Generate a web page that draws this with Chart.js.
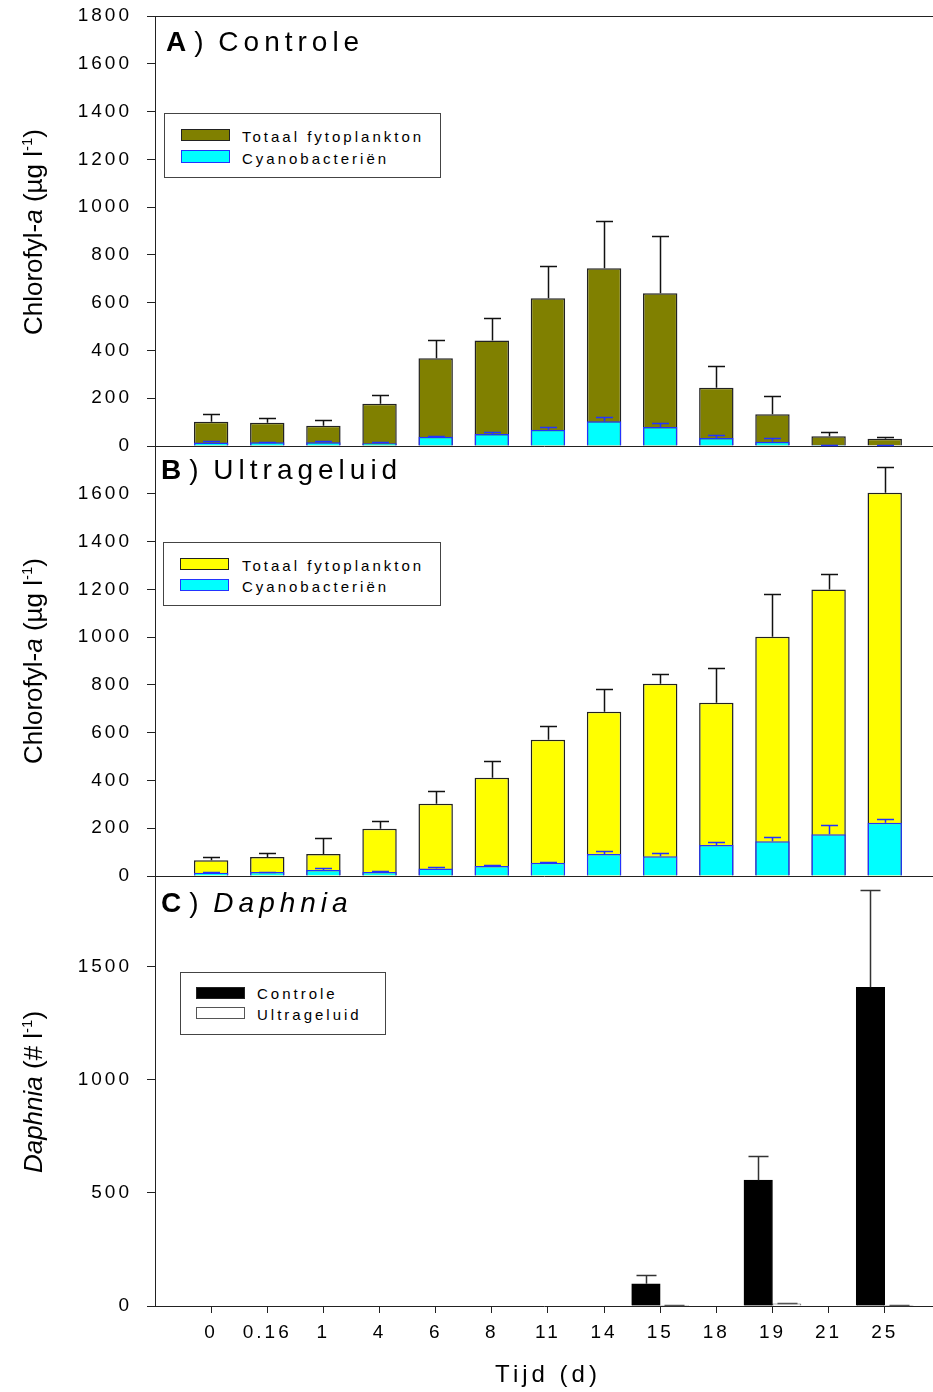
<!DOCTYPE html>
<html>
<head>
<meta charset="utf-8">
<script src="https://cdn.jsdelivr.net/npm/chart.js@4.4.1/dist/chart.umd.min.js"></script>
<style>
  body { margin: 0; background: #fff; }
  #wrap { position: relative; width: 933px; height: 1392px; overflow: hidden;
          font-family: "Liberation Sans", Arial, sans-serif; color: #000; }
  canvas { position: absolute; left: 0; }
  .ttl { position: absolute; font-size: 28px; line-height: 28px; letter-spacing: 5px; white-space: nowrap; }
  .ttl .p { margin-left: 3px; margin-right: -3px; }
  .ytitle { position: absolute; left: 33px; font-size: 26px; line-height: 26px; white-space: nowrap;
            transform: translate(-50%, -50%) rotate(-90deg); }
  .ytitle sup { font-size: 15px; vertical-align: 10px; line-height: 0; }
  .xtitle { position: absolute; font-size: 24px; line-height: 24px; letter-spacing: 4px; white-space: nowrap;
            transform: translateX(-50%); }
  .legend { position: absolute; border: 1px solid #444; box-sizing: border-box; background: #fff; }
  .legend .sw { position: absolute; width: 49px; height: 12px; box-sizing: border-box; border: 1px solid #222; }
  .legend .lt { position: absolute; font-size: 15px; line-height: 15px; letter-spacing: 3px; white-space: nowrap; }
</style>
</head>
<body>
<div id="wrap">
  <canvas id="cA" width="933" height="460" style="top:0px"></canvas>
  <canvas id="cB" width="933" height="460" style="top:430px"></canvas>
  <canvas id="cC" width="933" height="532" style="top:860px"></canvas>

  <div class="ttl" style="left:166px; top:28px;"><b>A</b><span class="p">)</span> Controle</div>
  <div class="ttl" style="left:161px; top:456px;"><b>B</b><span class="p">)</span> Ultrageluid</div>
  <div class="ttl" style="left:161px; top:889px;"><b>C</b><span class="p">)</span> <i>Daphnia</i></div>

  <div class="ytitle" style="top:232px;">Chlorofyl-<i>a</i> (µg l<sup>-1</sup>)</div>
  <div class="ytitle" style="top:661px;">Chlorofyl-<i>a</i> (µg l<sup>-1</sup>)</div>
  <div class="ytitle" style="top:1092px;"><i>Daphnia</i> (# l<sup>-1</sup>)</div>
  <div class="xtitle" style="left:548px; top:1362px;">Tijd (d)</div>

  <div class="legend" style="left:164px; top:113px; width:277px; height:65px;">
    <div class="sw" style="left:16px; top:15px; background:#808000;"></div>
    <div class="sw" style="left:16px; top:36px; height:13px; background:#00ffff; border-color:#2233ff;"></div>
    <div class="lt" style="left:77px; top:15px;">Totaal fytoplankton</div>
    <div class="lt" style="left:77px; top:37px;">Cyanobacteriën</div>
  </div>
  <div class="legend" style="left:163px; top:542px; width:278px; height:64px;">
    <div class="sw" style="left:16px; top:15px; background:#ffff00;"></div>
    <div class="sw" style="left:16px; top:36px; background:#00ffff; border-color:#2233ff;"></div>
    <div class="lt" style="left:78px; top:15px;">Totaal fytoplankton</div>
    <div class="lt" style="left:78px; top:36px;">Cyanobacteriën</div>
  </div>
  <div class="legend" style="left:180px; top:972px; width:206px; height:63px;">
    <div class="sw" style="left:15px; top:14px; background:#000;"></div>
    <div class="sw" style="left:15px; top:34px; background:#fff; border-color:#555;"></div>
    <div class="lt" style="left:76px; top:13px;">Controle</div>
    <div class="lt" style="left:76px; top:34px;">Ultrageluid</div>
  </div>
</div>

<script>
// Sampling days (d)
const days = ['0', '0.16', '1', '4', '6', '8', '11', '14', '15', '18', '19', '21', '25'];

// Chlorophyll-a (µg/l), control enclosures
const ctrlTotal    = [101, 97, 85, 177, 367, 442, 618, 744, 639, 244, 133, 41, 30];
const ctrlTotalErr = [31, 21, 25, 38, 75, 93, 135, 197, 239, 89, 76, 17, 9];
const ctrlCyano    = [15, 16, 16, 12, 39, 50, 68, 104, 80, 34, 18, 5, 3];
const ctrlCyanoErr = [7, 2, 4, 4, 4, 8, 12, 18, 17, 13, 16, 1, 1];

// Chlorophyll-a (µg/l), ultrasound enclosures
const usTotal    = [66, 80, 92, 198, 302, 411, 570, 688, 805, 725, 1002, 1199, 1604];
const usTotalErr = [12, 15, 66, 34, 54, 71, 59, 96, 42, 147, 180, 67, 107];
const usCyano    = [14, 17, 25, 17, 31, 42, 55, 92, 83, 130, 145, 175, 223];
const usCyanoErr = [3, 1, 7, 3, 5, 5, 4, 14, 12, 11, 17, 38, 17];

// Daphnia density (#/l)
const daphCtrl    = [0, 0, 0, 0, 0, 0, 0, 0, 98, 0, 556, 0, 1408];
const daphCtrlErr = [0, 0, 0, 0, 0, 0, 0, 0, 39, 0, 106, 0, 428];
const daphUs      = [0, 0, 0, 0, 0, 0, 0, 0, 3, 0, 10, 0, 2];
const daphUsErr   = [0, 0, 0, 0, 0, 0, 0, 0, 1, 0, 3, 0, 1];

// Y-axis tick values
const chlTicks  = [0, 200, 400, 600, 800, 1000, 1200, 1400, 1600, 1800];
const daphTicks = [0, 500, 1000, 1500];

Chart.defaults.font.family = '"Liberation Sans", Arial, sans-serif';
Chart.defaults.color = '#000';

const AXIS = '#222';

// wide letter spacing for the tick labels
const spacing = {
  id: 'spacing',
  beforeUpdate(chart) { chart.ctx.letterSpacing = '3px'; },
  beforeDraw(chart) { chart.ctx.letterSpacing = '3px'; }
};

// one-sided (upward) error bars with caps
const errorBars = {
  id: 'errorBars',
  afterDatasetsDraw(chart, args, opts) {
    const ctx = chart.ctx;
    const ys = chart.scales.y;
    ctx.save();
    ctx.lineWidth = 1.5;
    const sets = chart.data.datasets;
    for (let i = sets.length - 1; i >= 0; i--) {
      const ds = sets[i];
      if (!ds.errors) continue;
      const meta = chart.getDatasetMeta(i);
      ctx.strokeStyle = ds.errorColor;
      meta.data.forEach((bar, j) => {
        const pt = ds.data[j];
        const v = pt && pt.y, e = ds.errors[j];
        if (v == null || !e) return;
        const y0 = ys.getPixelForValue(v);
        const y1 = Math.round(ys.getPixelForValue(v + e)) + 0.5;
        const x = Math.round(bar.x) + 0.5;
        ctx.beginPath();
        ctx.moveTo(x, y0);
        ctx.lineTo(x, y1);
        ctx.moveTo(x - opts.cap, y1);
        ctx.lineTo(x + opts.cap, y1);
        ctx.stroke();
      });
    }
    ctx.restore();
  }
};

// closing line along the top of the first panel
const topLine = {
  id: 'topLine',
  afterDraw(chart, args, opts) {
    if (!opts.show) return;
    const { ctx, chartArea } = chart;
    ctx.save();
    ctx.strokeStyle = AXIS;
    ctx.lineWidth = 1;
    ctx.beginPath();
    ctx.moveTo(chartArea.left, chartArea.top + 0.5);
    ctx.lineTo(chartArea.right, chartArea.top + 0.5);
    ctx.stroke();
    ctx.restore();
  }
};

function makeOptions(cfg) {
  return {
    responsive: false,
    animation: false,
    devicePixelRatio: 1,
    layout: { padding: { top: 16, left: 0, right: 0, bottom: 0 } },
    plugins: {
      legend: { display: false },
      tooltip: { enabled: false },
      errorBars: { cap: cfg.cap },
      topLine: { show: !!cfg.topLine }
    },
    scales: {
      x: {
        type: 'linear',
        min: -1,
        max: 12.86,
        offset: false,
        afterBuildTicks: s => { s.ticks = days.map((d, i) => ({ value: i })); },
        afterFit: s => { s.height = cfg.xHeight; s.paddingLeft = 0; s.paddingRight = 0; },
        ticks: {
          display: !!cfg.showX,
          autoSkip: false,
          maxRotation: 0,
          padding: 8,
          font: { size: 19 },
          callback: v => days[v]
        },
        grid: {
          display: true,
          offset: false,
          drawOnChartArea: false,
          drawTicks: !!cfg.showX,
          tickLength: 7,
          color: AXIS,
          lineWidth: 1
        },
        border: { display: true, color: AXIS, width: 1 }
      },
      y: {
        min: 0,
        max: cfg.yMax,
        afterBuildTicks: s => { s.ticks = cfg.yTicks.map(v => ({ value: v })); },
        afterFit: s => { s.width = 155; s.paddingTop = 0; s.paddingBottom = 0; },
        ticks: {
          padding: 15,
          font: { size: 19 },
          callback: v => (cfg.hideTop && v === cfg.yMax) ? '' : String(v)
        },
        grid: {
          display: true,
          drawOnChartArea: false,
          drawTicks: true,
          tickLength: 8,
          color: AXIS,
          lineWidth: 1
        },
        border: { display: true, color: AXIS, width: 1 }
      }
    }
  };
}

function xy(arr) { return arr.map((v, i) => ({ x: i, y: v })); }

// A) control
new Chart(document.getElementById('cA'), {
  type: 'bar',
  data: {
    datasets: [
      { label: 'Cyanobacteriën', data: xy(ctrlCyano), errors: ctrlCyanoErr, errorColor: '#2233ff',
        backgroundColor: '#00ffff', borderColor: '#2233ff', borderWidth: 1.5,
        grouped: false, categoryPercentage: 0.613, barPercentage: 1 },
      { label: 'Totaal fytoplankton', data: xy(ctrlTotal), errors: ctrlTotalErr, errorColor: '#111',
        backgroundColor: '#808000', borderColor: '#222', borderWidth: 1.5,
        grouped: false, categoryPercentage: 0.613, barPercentage: 1 }
    ]
  },
  options: makeOptions({ yMax: 1800, yTicks: chlTicks, xHeight: 14, cap: 8.5, topLine: true }),
  plugins: [spacing, errorBars, topLine]
});

// B) ultrasound
new Chart(document.getElementById('cB'), {
  type: 'bar',
  data: {
    datasets: [
      { label: 'Cyanobacteriën', data: xy(usCyano), errors: usCyanoErr, errorColor: '#2233ff',
        backgroundColor: '#00ffff', borderColor: '#2233ff', borderWidth: 1.5,
        grouped: false, categoryPercentage: 0.613, barPercentage: 1 },
      { label: 'Totaal fytoplankton', data: xy(usTotal), errors: usTotalErr, errorColor: '#111',
        backgroundColor: '#ffff00', borderColor: '#222', borderWidth: 1.5,
        grouped: false, categoryPercentage: 0.613, barPercentage: 1 }
    ]
  },
  options: makeOptions({ yMax: 1800, yTicks: chlTicks, xHeight: 14, cap: 8.5, hideTop: true }),
  plugins: [spacing, errorBars, topLine]
});

// C) Daphnia
new Chart(document.getElementById('cC'), {
  type: 'bar',
  data: {
    datasets: [
      { label: 'Controle', data: xy(daphCtrl), errors: daphCtrlErr, errorColor: '#333',
        backgroundColor: '#000', borderColor: '#000', borderWidth: 1, barThickness: 28.5 },
      { label: 'Ultrageluid', data: xy(daphUs), errors: daphUsErr, errorColor: '#555',
        backgroundColor: '#fff', borderColor: '#666', borderWidth: 1, barThickness: 28.5 }
    ]
  },
  options: makeOptions({ yMax: 1900, yTicks: daphTicks, xHeight: 86, cap: 10, showX: true }),
  plugins: [spacing, errorBars, topLine]
});
</script>
</body>
</html>
